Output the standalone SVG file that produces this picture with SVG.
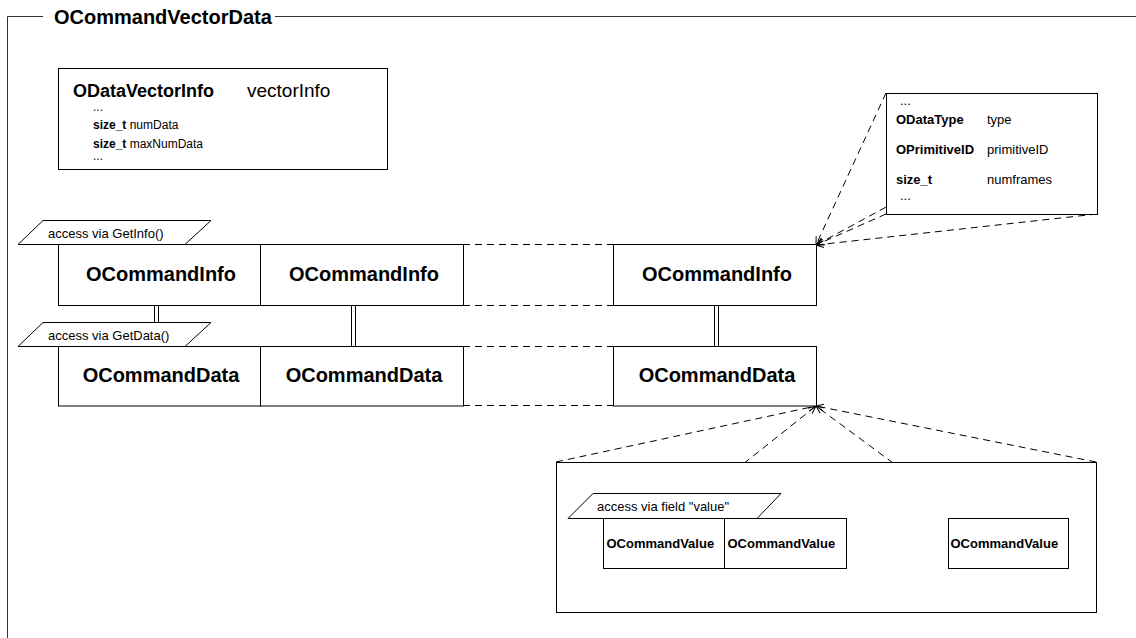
<svg xmlns="http://www.w3.org/2000/svg" width="1136" height="638" viewBox="0 0 1136 638">
<defs>
<style>
text{font-family:"Liberation Sans",Arial,sans-serif;fill:#000}
.b{font-weight:bold}
.box{fill:#fff;stroke:#000;stroke-width:1}
.frame{fill:none;stroke:#333;stroke-width:1}
.dash{fill:none;stroke:#000;stroke-width:1;stroke-dasharray:7,5}
.dbl{fill:none;stroke:#000;stroke-width:1}
.big{font-size:20px;font-weight:bold}
.lbl{font-size:13px}
.sm{font-size:12px}
.mid{text-anchor:middle}
</style>
<marker id="arr" markerWidth="10" markerHeight="8" refX="8" refY="4" orient="auto" markerUnits="userSpaceOnUse"><path d="M0,0.5 L8,4 L0,7.5" fill="none" stroke="#000" stroke-width="1"/></marker>
</defs>
<rect x="0" y="0" width="1136" height="638" fill="#fff"/>
<g id="frame">
<path class="frame" d="M7.5,638 V16.5 H43 M275,16.5 H1136"/>
<text x="54" y="23.5" class="big">OCommandVectorData</text>
</g>
<g id="connectors">
<path class="dash" d="M463,244.5 H613 M463,305.5 H613 M463,346.5 H613 M463,405.5 H613 M846,518.5 H948 M846,568.5 H948"/>
<line class="dash" x1="886" y1="93" x2="816" y2="245" marker-end="url(#arr)"/>
<line class="dash" x1="1097" y1="93" x2="816" y2="245" marker-end="url(#arr)"/>
<line class="dash" x1="886" y1="214" x2="816" y2="245" marker-end="url(#arr)"/>
<line class="dash" x1="1097" y1="214" x2="816" y2="245" marker-end="url(#arr)"/>
<line class="dash" x1="556" y1="462" x2="816" y2="406" marker-end="url(#arr)"/>
<line class="dash" x1="1096" y1="462" x2="816" y2="406" marker-end="url(#arr)"/>
<line class="dash" x1="556" y1="613" x2="816" y2="406" marker-end="url(#arr)"/>
<line class="dash" x1="1096" y1="613" x2="816" y2="406" marker-end="url(#arr)"/>
<path class="dbl" d="M154.5,305 V346 M158.5,305 V346 M351.5,305 V346 M355.5,305 V346 M714.5,305 V346 M718.5,305 V346"/>
</g>
<g id="vectorInfo">
<rect class="box" x="58.5" y="68.5" width="329" height="101"/>
<text x="73" y="97" style="font-size:18px;font-weight:bold">ODataVectorInfo</text>
<text x="247" y="97" style="font-size:19px">vectorInfo</text>
<text x="93" y="111" class="sm">...</text>
<text x="93" y="129" class="sm"><tspan class="b">size_t</tspan> numData</text>
<text x="93" y="148" class="sm"><tspan class="b">size_t</tspan> maxNumData</text>
<text x="93" y="160" class="sm">...</text>
</g>
<g id="infoDetail">
<rect class="box" x="886.5" y="93.5" width="211" height="121"/>
<text x="900" y="105" class="lbl">...</text>
<text x="896" y="124" class="lbl b">ODataType</text>
<text x="987" y="124" class="lbl">type</text>
<text x="896" y="154" class="lbl b">OPrimitiveID</text>
<text x="987" y="154" class="lbl">primitiveID</text>
<text x="896" y="184" class="lbl b">size_t</text>
<text x="987" y="184" class="lbl">numframes</text>
<text x="900" y="200" class="lbl">...</text>
</g>
<g id="info1"><rect class="box" x="58.5" y="244.5" width="202" height="61"/><text x="161" y="281" class="big mid">OCommandInfo</text></g>
<g id="info2"><rect class="box" x="260.5" y="244.5" width="203" height="61"/><text x="364" y="281" class="big mid">OCommandInfo</text></g>
<g id="info3"><rect class="box" x="613.5" y="244.5" width="203" height="61"/><text x="717" y="281" class="big mid">OCommandInfo</text></g>
<g id="data1"><rect class="box" x="58.5" y="346.5" width="202" height="59.5"/><text x="161" y="382" class="big mid">OCommandData</text></g>
<g id="data2"><rect class="box" x="260.5" y="346.5" width="203" height="59.5"/><text x="364" y="382" class="big mid">OCommandData</text></g>
<g id="data3"><rect class="box" x="613.5" y="346.5" width="203" height="59.5"/><text x="717" y="382" class="big mid">OCommandData</text></g>
<g id="getInfoLabel"><polygon class="box" points="43,220.5 211,220.5 185,244.5 18,244.5"/><text x="48" y="238" class="lbl">access via GetInfo()</text></g>
<g id="getDataLabel"><polygon class="box" points="43,322.5 211,322.5 185,346.5 18,346.5"/><text x="48" y="340" class="lbl">access via GetData()</text></g>
<g id="valueContainer"><rect class="box" x="556.5" y="462.5" width="540" height="150"/></g>
<g id="value1"><rect class="box" x="603.5" y="518.5" width="121" height="50"/><text x="606.5" y="548" class="lbl b">OCommandValue</text></g>
<g id="value2"><rect class="box" x="724.5" y="518.5" width="122" height="50"/><text x="727.5" y="548" class="lbl b">OCommandValue</text></g>
<g id="value3"><rect class="box" x="948.5" y="518.5" width="120" height="50"/><text x="950.5" y="548" class="lbl b">OCommandValue</text></g>
<g id="valueLabel"><polygon class="box" points="593,493.5 781,493.5 757,518.5 568,518.5"/><text x="597" y="511" class="lbl">access via field "value"</text></g>
</svg>
